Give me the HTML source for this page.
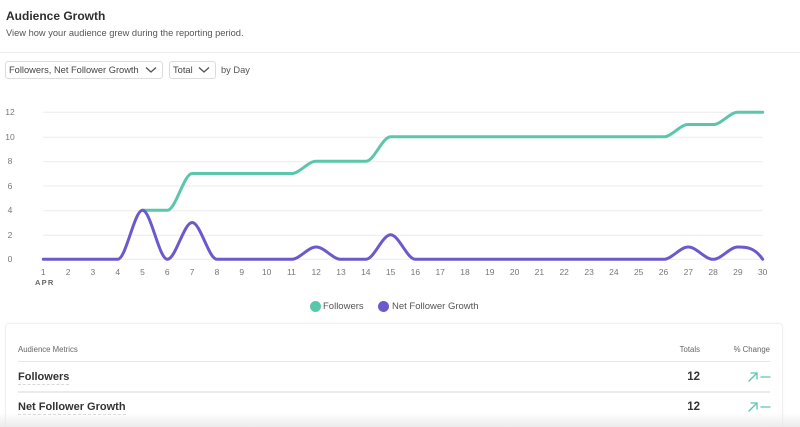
<!DOCTYPE html>
<html>
<head>
<meta charset="utf-8">
<style>
  html,body{margin:0;padding:0;background:#fff;overflow:hidden;width:800px;height:427px;}
  #wrap{width:800px;height:427px;position:relative;overflow:hidden;font-family:"Liberation Sans",Arial,sans-serif;color:#333;background:#fff;}
  .abs{position:absolute;white-space:nowrap;}
  .title{left:6px;top:9px;font-size:12px;font-weight:bold;color:#2f2f2f;}
  .sub{left:6px;top:28px;font-size:9.3px;color:#555;}
  .divider{left:0;top:52px;width:800px;height:1px;background:#ececec;}
  .dd{border:1px solid #dcdcdc;border-radius:3px;height:17px;box-sizing:border-box;}
  .ddtext{font-size:9.3px;color:#444;}
  .ylab{font-size:8.5px;color:#777;left:4px;width:12px;text-align:center;}
  .xlab{font-size:8.5px;color:#777;width:20px;text-align:center;top:267px;}
  .leg{font-size:9.5px;color:#555;top:301px;}
  .card{left:5px;top:323px;width:776px;height:110px;border:1px solid #f0f0f0;border-radius:4px;box-shadow:0 0 3px rgba(0,0,0,0.04);}
  .th{font-size:7.8px;color:#666;}
  .rowname{font-size:11px;font-weight:bold;color:#333;border-bottom:1px dashed #d8d8d8;padding-bottom:1px;}
  .num{font-size:11.5px;font-weight:bold;color:#333;text-align:right;width:40px;}
  .fade{left:0;top:413px;width:800px;height:14px;background:linear-gradient(to bottom,rgba(238,238,238,0),rgba(232,232,232,0.85));}
</style>
</head>
<body>
<div id="wrap">
  <div class="abs title">Audience Growth</div>
  <div class="abs sub">View how your audience grew during the reporting period.</div>
  <div class="abs divider"></div>

  <div class="abs dd" style="left:5px;top:61px;width:158px;height:18px;"></div>
  <div class="abs ddtext" style="left:9px;top:65px;">Followers, Net Follower Growth</div>
  <svg class="abs" style="left:145px;top:66px;" width="12" height="8" viewBox="0 0 12 8"><polyline points="1,1.5 6,6 11,1.5" fill="none" stroke="#555" stroke-width="1.3"/></svg>

  <div class="abs dd" style="left:169px;top:61px;width:47px;height:18px;"></div>
  <div class="abs ddtext" style="left:173px;top:65px;">Total</div>
  <svg class="abs" style="left:198px;top:66px;" width="12" height="8" viewBox="0 0 12 8"><polyline points="1,1.5 6,6 11,1.5" fill="none" stroke="#555" stroke-width="1.3"/></svg>
  <div class="abs ddtext" style="left:221px;top:65px;color:#555;">by Day</div>

  <svg class="abs" style="left:0;top:0;" width="800" height="300" viewBox="0 0 800 300">
    <g stroke="#ebebeb" stroke-width="1">
      <line x1="43.3" x2="762.7" y1="112.3" y2="112.3"/>
      <line x1="43.3" x2="762.7" y1="137.3" y2="137.3"/>
      <line x1="43.3" x2="762.7" y1="161.7" y2="161.7"/>
      <line x1="43.3" x2="762.7" y1="186" y2="186"/>
      <line x1="43.3" x2="762.7" y1="210.7" y2="210.7"/>
      <line x1="43.3" x2="762.7" y1="235.3" y2="235.3"/>
      <line x1="43.3" x2="762.7" y1="259.3" y2="259.3"/>
    </g>
    <path d="M142.53,210.3 L167.33,210.3 C175.6,210.3 183.87,173.55 192.14,173.55 L291.37,173.55 C299.64,173.55 307.91,161.3 316.18,161.3 L365.79,161.3 C374.06,161.3 382.33,136.8 390.6,136.8 L663.48,136.8 C671.75,136.8 680.01,124.55 688.28,124.55 L713.09,124.55 C721.36,124.55 729.63,112.3 737.9,112.3 L762.7,112.3" fill="none" stroke="#5cc6ad" stroke-width="3" stroke-linecap="round" stroke-linejoin="round"/>
    <path d="M43.3,259.3 L117.72,259.3 C125.99,259.3 134.26,210.3 142.53,210.3 C150.8,210.3 159.06,259.3 167.33,259.3 C175.6,259.3 183.87,222.55 192.14,222.55 C200.41,222.55 208.68,259.3 216.95,259.3 L291.37,259.3 C299.64,259.3 307.91,247.05 316.18,247.05 C324.45,247.05 332.71,259.3 340.98,259.3 L365.79,259.3 C374.06,259.3 382.33,234.8 390.6,234.8 C398.87,234.8 407.14,259.3 415.41,259.3 L663.48,259.3 C671.75,259.3 680.01,247.05 688.28,247.05 C696.55,247.05 704.82,259.3 713.09,259.3 C721.36,259.3 729.63,247.05 737.9,247.05 C746.17,247.05 754.43,247.1 762.7,259.3" fill="none" stroke="#6a5acb" stroke-width="3" stroke-linecap="round" stroke-linejoin="round"/>
  </svg>

  <div class="abs ylab" style="top:107px;">12</div>
  <div class="abs ylab" style="top:132px;">10</div>
  <div class="abs ylab" style="top:156px;">8</div>
  <div class="abs ylab" style="top:181px;">6</div>
  <div class="abs ylab" style="top:205px;">4</div>
  <div class="abs ylab" style="top:230px;">2</div>
  <div class="abs ylab" style="top:254px;">0</div>

  <div class="abs xlab" style="left:33.3px;">1</div>
  <div class="abs xlab" style="left:58.1px;">2</div>
  <div class="abs xlab" style="left:82.9px;">3</div>
  <div class="abs xlab" style="left:107.7px;">4</div>
  <div class="abs xlab" style="left:132.5px;">5</div>
  <div class="abs xlab" style="left:157.3px;">6</div>
  <div class="abs xlab" style="left:182.1px;">7</div>
  <div class="abs xlab" style="left:207px;">8</div>
  <div class="abs xlab" style="left:231.8px;">9</div>
  <div class="abs xlab" style="left:256.6px;">10</div>
  <div class="abs xlab" style="left:281.4px;">11</div>
  <div class="abs xlab" style="left:306.2px;">12</div>
  <div class="abs xlab" style="left:331px;">13</div>
  <div class="abs xlab" style="left:355.8px;">14</div>
  <div class="abs xlab" style="left:380.6px;">15</div>
  <div class="abs xlab" style="left:405.4px;">16</div>
  <div class="abs xlab" style="left:430.2px;">17</div>
  <div class="abs xlab" style="left:455px;">18</div>
  <div class="abs xlab" style="left:479.8px;">19</div>
  <div class="abs xlab" style="left:504.6px;">20</div>
  <div class="abs xlab" style="left:529.4px;">21</div>
  <div class="abs xlab" style="left:554.2px;">22</div>
  <div class="abs xlab" style="left:579.1px;">23</div>
  <div class="abs xlab" style="left:603.9px;">24</div>
  <div class="abs xlab" style="left:628.7px;">25</div>
  <div class="abs xlab" style="left:653.5px;">26</div>
  <div class="abs xlab" style="left:678.3px;">27</div>
  <div class="abs xlab" style="left:703.1px;">28</div>
  <div class="abs xlab" style="left:727.9px;">29</div>
  <div class="abs xlab" style="left:752.7px;">30</div>
  <div class="abs" style="left:35px;top:278px;font-size:7.5px;font-weight:bold;color:#666;letter-spacing:1.2px;">APR</div>

  <div class="abs" style="left:309.5px;top:300.5px;width:11px;height:11px;border-radius:50%;background:#5cc6ad;"></div>
  <div class="abs leg" style="left:323px;">Followers</div>
  <div class="abs" style="left:378px;top:300.5px;width:11px;height:11px;border-radius:50%;background:#6a5acb;"></div>
  <div class="abs leg" style="left:392px;">Net Follower Growth</div>

  <div class="abs card"></div>
  <div class="abs th" style="left:18px;top:345px;">Audience Metrics</div>
  <div class="abs th" style="left:660px;top:345px;width:40px;text-align:right;">Totals</div>
  <div class="abs th" style="left:720px;top:345px;width:50px;text-align:right;">% Change</div>
  <div class="abs" style="left:18px;top:361px;width:752px;height:1px;background:#e8e8e8;"></div>
  <div class="abs rowname" style="left:18px;top:371px;">Followers</div>
  <div class="abs num" style="left:660px;top:371px;">12</div>
  <svg class="abs" style="left:746px;top:370px;" width="26" height="14" viewBox="0 0 26 14">
    <g stroke="#5cc6ad" stroke-width="1.3" fill="none" stroke-linecap="round">
      <line x1="3" y1="11" x2="11" y2="3"/><polyline points="5,3 11,3 11,9"/><line x1="15" y1="7" x2="24" y2="7"/>
    </g>
  </svg>
  <div class="abs" style="left:18px;top:391px;width:752px;height:2px;background:#ebebeb;"></div>
  <div class="abs rowname" style="left:18px;top:401px;">Net Follower Growth</div>
  <div class="abs num" style="left:660px;top:401px;">12</div>
  <svg class="abs" style="left:746px;top:400px;" width="26" height="14" viewBox="0 0 26 14">
    <g stroke="#5cc6ad" stroke-width="1.3" fill="none" stroke-linecap="round">
      <line x1="3" y1="11" x2="11" y2="3"/><polyline points="5,3 11,3 11,9"/><line x1="15" y1="7" x2="24" y2="7"/>
    </g>
  </svg>
  <div class="abs fade"></div>
</div>
</body>
</html>
